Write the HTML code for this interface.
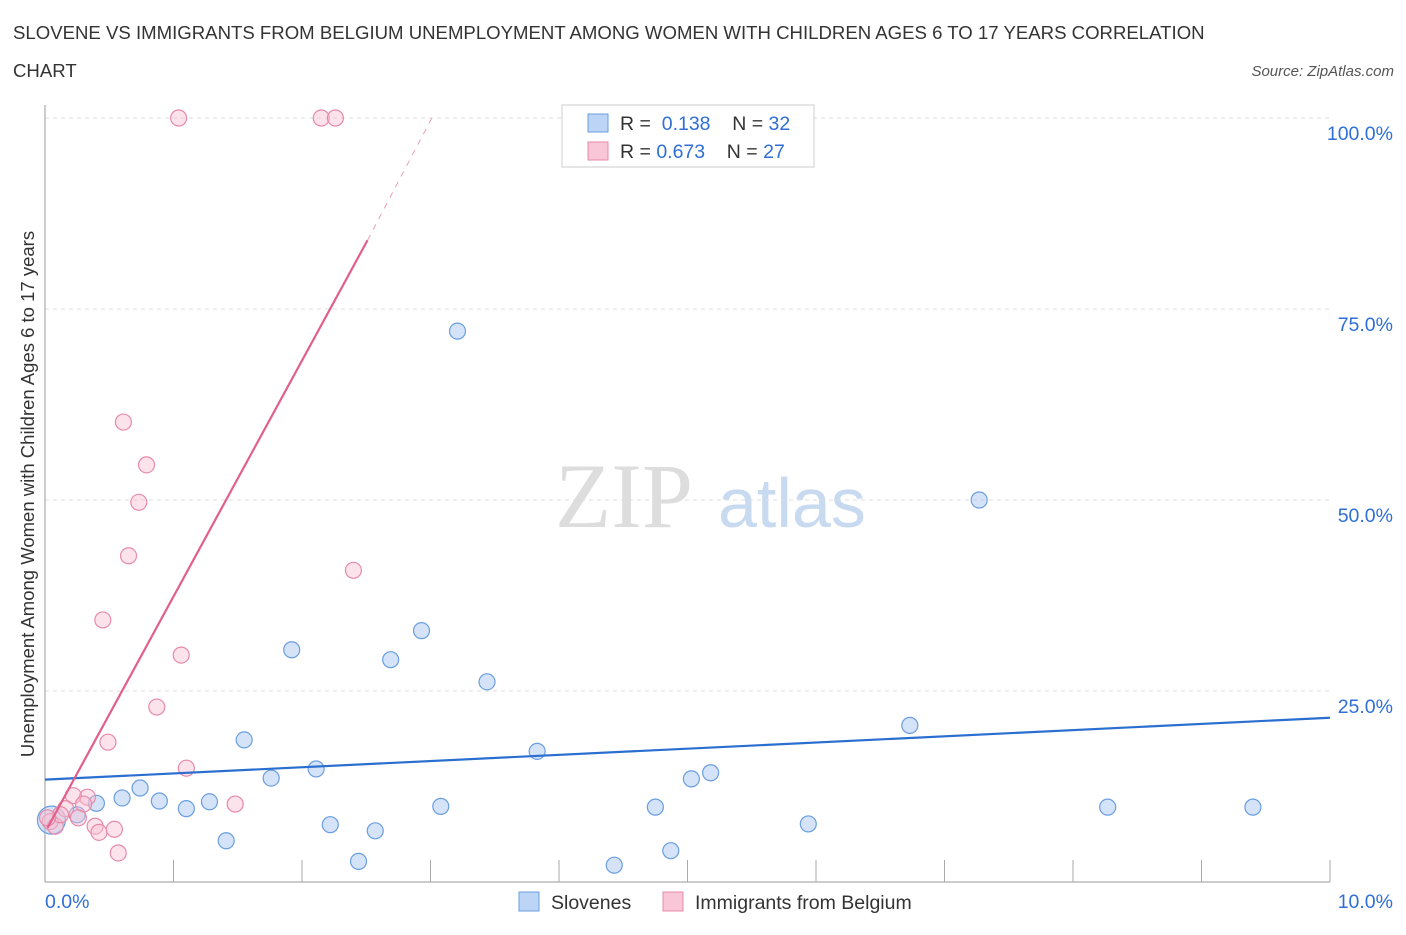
<!DOCTYPE html>
<html><head><meta charset="utf-8"><style>
body{margin:0;background:#fff;font-family:"Liberation Sans",sans-serif;}
</style></head><body>
<svg id="chart" width="1406" height="930" xmlns="http://www.w3.org/2000/svg" font-family="Liberation Sans, sans-serif">
<text x="13" y="39" font-size="18.6" fill="#333">SLOVENE VS IMMIGRANTS FROM BELGIUM UNEMPLOYMENT AMONG WOMEN WITH CHILDREN AGES 6 TO 17 YEARS CORRELATION</text>
<text x="13" y="77" font-size="18.6" fill="#333">CHART</text>
<text x="1394" y="76" font-size="15" fill="#555" text-anchor="end" font-style="italic">Source: ZipAtlas.com</text>
<text x="555" y="527" font-size="92" fill="#ddd" font-family="Liberation Serif, serif">ZIP</text>
<text x="718" y="527" font-size="70" fill="#c8daf0">atlas</text>
<text transform="translate(34,494) rotate(-90)" font-size="18.5" fill="#333" text-anchor="middle">Unemployment Among Women with Children Ages 6 to 17 years</text>
<g id="grid"></g><g id="marks"></g>
<g>
<rect x="562" y="105" width="252" height="62" fill="#fff" stroke="#ccc"/>
<rect x="588" y="114" width="20" height="18" fill="#bcd4f5" stroke="#6a9ee0"/>
<text x="620" y="130" font-size="19.5" fill="#333">R = <tspan fill="#2f6fd6">&#160;0.138</tspan>&#160;&#160;&#160;&#160;N = <tspan fill="#2f6fd6">32</tspan></text>
<rect x="588" y="142" width="20" height="18" fill="#f8c6d6" stroke="#e88aa8"/>
<text x="620" y="158" font-size="19.5" fill="#333">R = <tspan fill="#2f6fd6">0.673</tspan>&#160;&#160;&#160;&#160;N = <tspan fill="#2f6fd6">27</tspan></text>
</g>
<g>
<rect x="519" y="892" width="20" height="19" fill="#bcd4f5" stroke="#6a9ee0"/>
<text x="551" y="909" font-size="19.5" fill="#333">Slovenes</text>
<rect x="663" y="892" width="20" height="19" fill="#f8c6d6" stroke="#e88aa8"/>
<text x="695" y="909" font-size="19.5" fill="#333">Immigrants from Belgium</text>
</g>
</svg>
<script>
const xTicksLabels=["0.0%","10.0%"];
const yTickValues=[25,50,75,100];
const yTickLabels=["25.0%","50.0%","75.0%","100.0%"];
const blueX=[0.05,0.25,0.40,0.60,0.74,0.89,1.10,1.28,1.41,1.55,1.76,1.92,2.11,2.22,2.44,2.57,2.69,2.93,3.08,3.21,3.44,3.83,4.43,4.75,4.87,5.03,5.18,5.94,6.73,7.27,8.27,9.40];
const blueY=[8.1,8.8,10.3,11.0,12.3,10.6,9.6,10.5,5.4,18.6,13.6,30.4,14.8,7.5,2.7,6.7,29.1,32.9,9.9,72.1,26.2,17.1,2.2,9.8,4.1,13.5,14.3,7.6,20.5,50.0,9.8,9.8];
const pinkX=[1.04,2.15,2.26,0.61,0.79,0.73,0.65,0.45,1.06,2.40,0.87,0.49,1.10,1.48,0.33,0.22,0.30,0.16,0.26,0.39,0.42,0.54,0.57,0.04,0.08,0.12,0.02];
const pinkY=[100,100,100,60.2,54.6,49.7,42.7,34.3,29.7,40.8,22.9,18.3,14.9,10.2,11.1,11.3,10.2,9.6,8.4,7.3,6.5,6.9,3.8,7.9,7.3,8.8,8.4];
const blueTrend=[[0,13.4],[10,21.5]];
const pinkTrend=[[0.02,7.1],[2.51,84.0]];
const pinkTrendDash=[[2.51,84.0],[3.01,100]];
const NS="http://www.w3.org/2000/svg";
const X=v=>45+v*128.5, Y=v=>882-v*7.64;
function mk(tag,attrs,parent){const e=document.createElementNS(NS,tag);for(const k in attrs)e.setAttribute(k,attrs[k]);parent.appendChild(e);return e;}
const grid=document.getElementById('grid'), marks=document.getElementById('marks');
yTickValues.forEach((v,i)=>{
 const l=mk('line',{x1:45,x2:1330,y1:Y(v),y2:Y(v),stroke:'#ddd','stroke-dasharray':'4,4'},grid);
 
 
 const t=mk('text',{x:1393,y:Y(v)+22,'font-size':19.5,fill:'#2f6fd6','text-anchor':'end'},grid);
 t.textContent=yTickLabels[i];
 
 
});
const ax=mk('line',{x1:45,x2:1330,y1:882,y2:882,stroke:'#999'},grid);


const ay=mk('line',{x1:45,x2:45,y1:105,y2:882,stroke:'#999'},grid);


for(let i=1;i<=10;i++){const t=mk('line',{x1:X(i),x2:X(i),y1:860,y2:882,stroke:'#aaa'},grid);
 
 }
[[0,'start',45],[1,'end',1393]].forEach(([i,a,x])=>{const t=mk('text',{x:x,y:908,'font-size':19.5,fill:'#2f6fd6','text-anchor':a},grid);t.textContent=xTicksLabels[i];
 
 });
function pts(xs,ys,fill,stroke,name){xs.forEach((x,i)=>{const c=mk('circle',{cx:X(x),cy:Y(ys[i]),r:(name==='slovene-point'&&i===0)?14:8,fill:fill,stroke:stroke,'stroke-width':1.2},marks);
 
 });}
pts(blueX,blueY,'rgba(170,200,240,0.5)','#6a9ee0','slovene-point');
pts(pinkX,pinkY,'rgba(248,190,210,0.45)','#e88aa8','belgium-point');
function ln(p,col,w,dash,name){const l=mk('line',{x1:X(p[0][0]),y1:Y(p[0][1]),x2:X(p[1][0]),y2:Y(p[1][1]),stroke:col,'stroke-width':w},marks);if(dash)l.setAttribute('stroke-dasharray',dash);
 
 }
ln(blueTrend,'#2a6fd0',2.2,null,'slovene-trendline');
ln(pinkTrend,'#e0608a',2.2,null,'belgium-trendline');
ln(pinkTrendDash,'#e8a0b8',1,'6,6','belgium-trendline-extension');
</script>
</body></html>
